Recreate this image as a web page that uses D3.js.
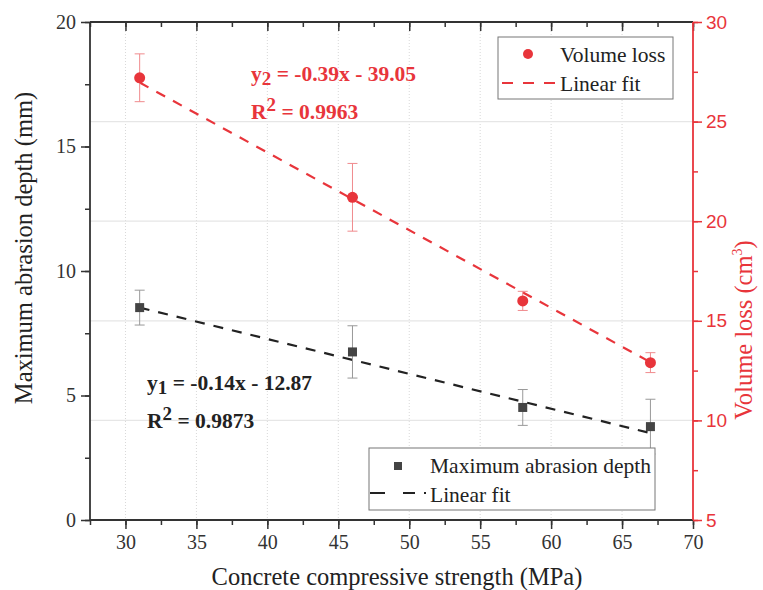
<!DOCTYPE html>
<html>
<head>
<meta charset="utf-8">
<script src="https://cdn.jsdelivr.net/npm/d3@7"></script>
<style>
  body { margin: 0; background: #fff; }
</style>
</head>
<body>
<div id="chart"></div>
<script>
// strength (MPa)
const strength = [31, 46, 58, 67];
// maximum abrasion depth (mm) and error
const depth = [8.53, 6.75, 4.52, 3.75];
const depthErr = [0.7, 1.05, 0.72, 1.1];
// volume loss (cm3) and error
const volume = [27.2, 21.2, 16.0, 12.9];
const volumeErr = [1.2, 1.7, 0.48, 0.5];
// fitted line end points
const fitX = [31, 67];
const fitDepth = [8.53, 3.49];
const fitVolume = [26.96, 12.92];

const xTicks = [30, 35, 40, 45, 50, 55, 60, 65, 70];
const leftTicks = [0, 5, 10, 15, 20];
const rightTicks = [5, 10, 15, 20, 25, 30];

const red = "#e8353b";
const dark = "#444444";
const serif = "'Liberation Serif', 'Times New Roman', serif";
const sans = "'Liberation Sans', Arial, sans-serif";

const width = 763;
const height = 590;
const mLeft = 90, mRight = 693, mTop = 22, mBottom = 520;

const svg = d3.select("#chart").append("svg")
  .attr("width", width)
  .attr("height", height)
  .attr("font-family", serif);

const x = d3.scaleLinear().domain([27.5, 70]).range([mLeft, mRight]);
const yL = d3.scaleLinear().domain([0, 20]).range([mBottom, mTop]);
const yR = d3.scaleLinear().domain([5, 30]).range([mBottom, mTop]);

// grid
svg.append("g").selectAll("line")
  .data(xTicks.filter(d => d < 70))
  .enter().append("line")
  .attr("x1", d => x(d)).attr("x2", d => x(d))
  .attr("y1", mTop).attr("y2", mBottom)
  .attr("stroke", "#d8d8d8").attr("stroke-width", 1)
  .attr("stroke-dasharray", "1,2");

svg.append("g").selectAll("line")
  .data(rightTicks.filter(d => d > 5 && d < 30))
  .enter().append("line")
  .attr("x1", mLeft).attr("x2", mRight)
  .attr("y1", d => yR(d)).attr("y2", d => yR(d))
  .attr("stroke", "#e6e6e6").attr("stroke-width", 1.2);

// axes
function styleAxis(g, color, size, family) {
  g.select(".domain").remove();
  g.attr("font-family", family || serif);
  g.selectAll("line").attr("stroke", color).attr("stroke-width", 1.5);
  g.selectAll("text").attr("fill", color).style("font-size", size + "px");
}

const xMinor = d3.range(27.5, 70.01, 2.5);
const lMinor = d3.range(0, 20.01, 2.5);
const rMinor = d3.range(5, 30.01, 2.5);

// bottom
svg.append("g").attr("transform", `translate(0,${mBottom})`)
  .call(d3.axisBottom(x).tickValues(xMinor).tickSize(5).tickFormat(""))
  .call(g => styleAxis(g, "#333", 17));
svg.append("g").attr("transform", `translate(0,${mBottom})`)
  .call(d3.axisBottom(x).tickValues(xTicks).tickSize(9).tickPadding(6))
  .call(g => styleAxis(g, "#333", 20, serif));

// top (inward)
svg.append("g").attr("transform", `translate(0,${mTop})`)
  .call(d3.axisBottom(x).tickValues(xMinor).tickSize(5).tickFormat(""))
  .call(g => styleAxis(g, "#333", 17));
svg.append("g").attr("transform", `translate(0,${mTop})`)
  .call(d3.axisBottom(x).tickValues(xTicks).tickSize(9).tickFormat(""))
  .call(g => styleAxis(g, "#333", 17));

// left
svg.append("g").attr("transform", `translate(${mLeft},0)`)
  .call(d3.axisLeft(yL).tickValues(lMinor).tickSize(5).tickFormat(""))
  .call(g => styleAxis(g, "#333", 17));
svg.append("g").attr("transform", `translate(${mLeft},0)`)
  .call(d3.axisLeft(yL).tickValues(leftTicks).tickSize(9).tickPadding(5))
  .call(g => styleAxis(g, "#333", 20, serif));

// right
svg.append("g").attr("transform", `translate(${mRight},0)`)
  .call(d3.axisRight(yR).tickValues(rMinor).tickSize(5).tickFormat(""))
  .call(g => styleAxis(g, red, 17));
svg.append("g").attr("transform", `translate(${mRight},0)`)
  .call(d3.axisRight(yR).tickValues(rightTicks).tickSize(9).tickPadding(4))
  .call(g => styleAxis(g, red, 19, sans));

// frame lines
svg.append("line").attr("x1", mLeft).attr("x2", mRight).attr("y1", mTop).attr("y2", mTop)
  .attr("stroke", "#333").attr("stroke-width", 1.8);
svg.append("line").attr("x1", mLeft).attr("x2", mRight).attr("y1", mBottom).attr("y2", mBottom)
  .attr("stroke", "#333").attr("stroke-width", 1.8);
svg.append("line").attr("x1", mLeft).attr("x2", mLeft).attr("y1", mTop).attr("y2", mBottom)
  .attr("stroke", "#333").attr("stroke-width", 1.8);
svg.append("line").attr("x1", mRight).attr("x2", mRight).attr("y1", mTop).attr("y2", mBottom)
  .attr("stroke", red).attr("stroke-width", 1.8);

// fit lines
svg.append("line")
  .attr("x1", x(fitX[0])).attr("y1", yR(fitVolume[0]))
  .attr("x2", x(fitX[1])).attr("y2", yR(fitVolume[1]))
  .attr("stroke", red).attr("stroke-width", 2.2).attr("stroke-dasharray", "10,9");
svg.append("line")
  .attr("x1", x(fitX[0])).attr("y1", yL(fitDepth[0]))
  .attr("x2", x(fitX[1])).attr("y2", yL(fitDepth[1]))
  .attr("stroke", "#222").attr("stroke-width", 2.2).attr("stroke-dasharray", "10,9");

// error bars
function errorBars(vals, errs, scale, color) {
  const g = svg.append("g").attr("stroke", color).attr("stroke-width", 1);
  strength.forEach((s, i) => {
    const cx = x(s);
    g.append("line").attr("x1", cx).attr("x2", cx)
      .attr("y1", scale(vals[i] + errs[i])).attr("y2", scale(vals[i] - errs[i]));
    [vals[i] + errs[i], vals[i] - errs[i]].forEach(v => {
      g.append("line").attr("x1", cx - 5).attr("x2", cx + 5)
        .attr("y1", scale(v)).attr("y2", scale(v));
    });
  });
}
errorBars(depth, depthErr, yL, "#999");
errorBars(volume, volumeErr, yR, "#f08a8d");

svg.append("g").selectAll("rect")
  .data(strength).enter().append("rect")
  .attr("x", (d) => x(d) - 4.5)
  .attr("y", (d, i) => yL(depth[i]) - 4.5)
  .attr("width", 9).attr("height", 9)
  .attr("fill", dark);

svg.append("g").selectAll("circle")
  .data(strength).enter().append("circle")
  .attr("cx", (d) => x(d))
  .attr("cy", (d, i) => yR(volume[i]))
  .attr("r", 5.5)
  .attr("fill", red);

// equations
function equation(xp, yp, sub, rest, r2, color) {
  const t = svg.append("text").attr("x", xp).attr("y", yp)
    .attr("fill", color).style("font-weight", "bold").style("font-size", "21.5px");
  t.append("tspan").text("y");
  t.append("tspan").attr("dy", 4).style("font-size", "19px").text(sub);
  t.append("tspan").attr("dy", -4).text(rest);
  const t2 = svg.append("text").attr("x", xp).attr("y", yp + 38)
    .attr("fill", color).style("font-weight", "bold").style("font-size", "21.5px");
  t2.append("tspan").text("R");
  t2.append("tspan").attr("dy", -8).style("font-size", "19px").text("2");
  t2.append("tspan").attr("dy", 8).text(" = " + r2);
}
equation(251, 81, "2", " = -0.39x - 39.05", "0.9963", red);
equation(147, 390, "1", " = -0.14x - 12.87", "0.9873", "#222");

// legends
const lg1 = svg.append("g");
lg1.append("rect").attr("x", 498).attr("y", 37).attr("width", 175).attr("height", 62)
  .attr("fill", "#fff").attr("stroke", "#777").attr("stroke-width", 1);
lg1.append("circle").attr("cx", 528).attr("cy", 54).attr("r", 5).attr("fill", red);
lg1.append("text").attr("x", 560).attr("y", 62).style("font-size", "21.5px").attr("fill", "#222")
  .text("Volume loss");
lg1.append("line").attr("x1", 502).attr("x2", 555).attr("y1", 83).attr("y2", 83)
  .attr("stroke", red).attr("stroke-width", 2.2).attr("stroke-dasharray", "11,10");
lg1.append("text").attr("x", 560).attr("y", 91).style("font-size", "21.5px").attr("fill", "#222")
  .text("Linear fit");

const lg2 = svg.append("g");
lg2.append("rect").attr("x", 369).attr("y", 448).attr("width", 286).attr("height", 62)
  .attr("fill", "#fff").attr("stroke", "#777").attr("stroke-width", 1);
lg2.append("rect").attr("x", 394).attr("y", 462).attr("width", 8).attr("height", 8)
  .attr("fill", dark);
lg2.append("text").attr("x", 430).attr("y", 473).style("font-size", "21.5px").attr("fill", "#222")
  .text("Maximum abrasion depth");
lg2.append("line").attr("x1", 370).attr("x2", 426).attr("y1", 493).attr("y2", 493)
  .attr("stroke", "#222").attr("stroke-width", 2.2).attr("stroke-dasharray", "15,18,12,9,2");
lg2.append("text").attr("x", 430).attr("y", 502).style("font-size", "21.5px").attr("fill", "#222")
  .text("Linear fit");

// axis titles
svg.append("text")
  .attr("transform", "translate(32,248) rotate(-90)")
  .attr("text-anchor", "middle")
  .style("font-size", "24.5px").attr("fill", "#222")
  .text("Maximum abrasion depth (mm)");

const rt = svg.append("text")
  .attr("transform", "translate(752,330) rotate(-90)")
  .attr("text-anchor", "middle")
  .style("font-size", "24.5px").attr("fill", red);
rt.append("tspan").text("Volume loss (cm");
rt.append("tspan").attr("dy", -10).style("font-size", "14px").text("3");
rt.append("tspan").attr("dy", 10).text(")");

svg.append("text")
  .attr("x", 397).attr("y", 585)
  .attr("text-anchor", "middle")
  .style("font-size", "24.5px").attr("fill", "#222")
  .text("Concrete compressive strength (MPa)");
</script>
</body>
</html>
